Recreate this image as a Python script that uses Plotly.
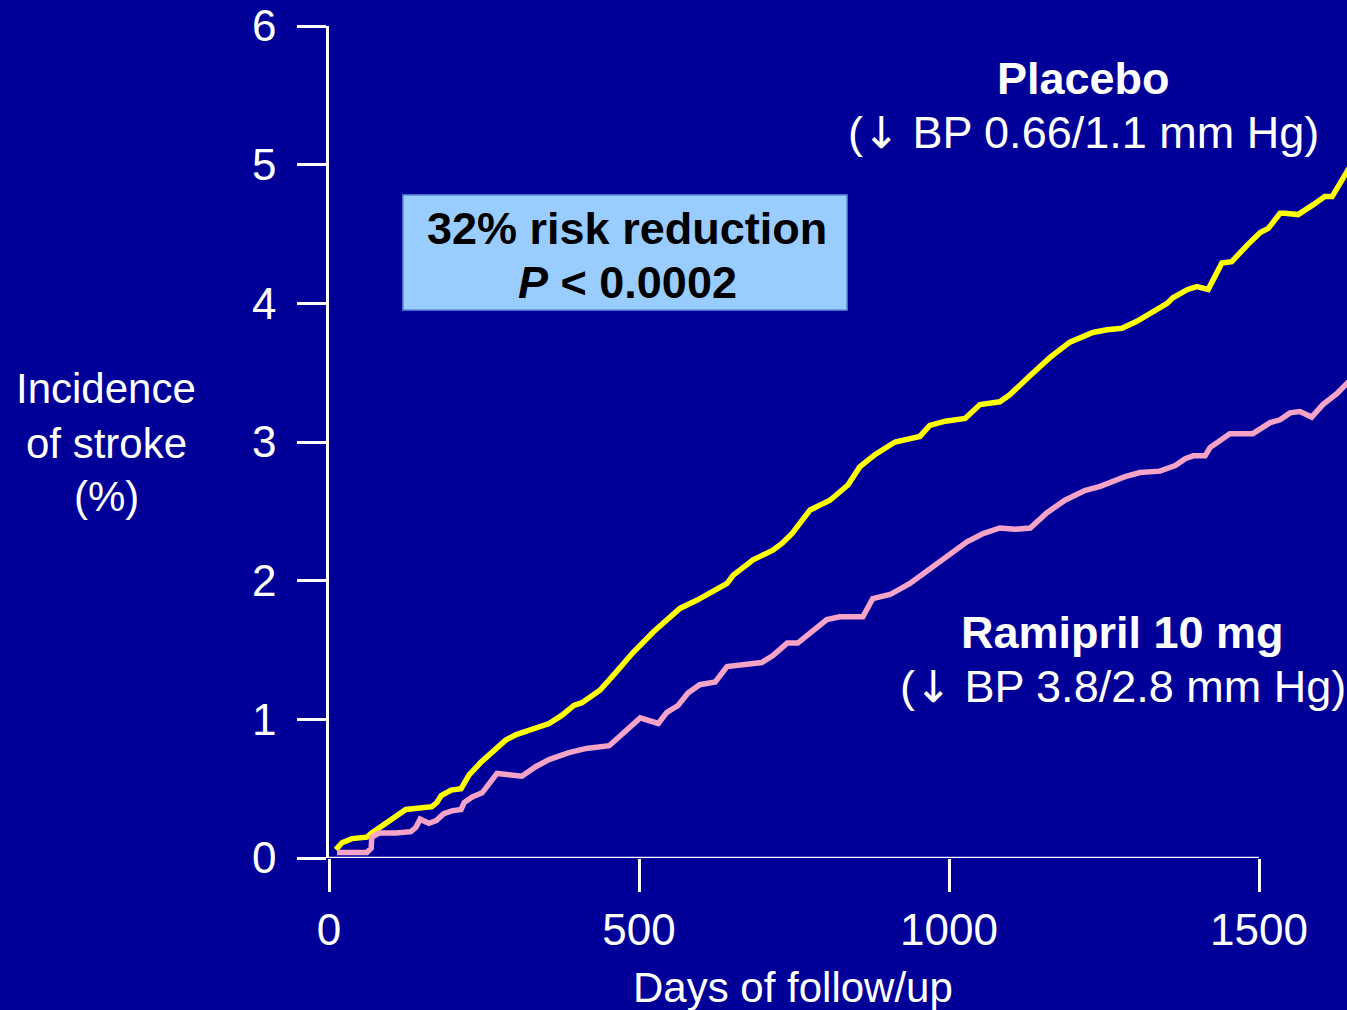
import plotly.graph_objects as go

# ---- data (days, incidence %) ----
placebo_days = [11, 21, 37, 61, 69, 92, 124, 166, 174, 181, 197, 213, 218, 226, 245, 266, 285, 302, 323, 339,
                355, 376, 395, 408, 437, 461, 490, 523, 566, 594, 626, 642, 652, 684, 716, 731, 747, 760, 776, 808,
                837, 856, 881, 913, 953, 969, 994, 1026, 1050, 1082, 1098, 1131, 1163, 1195, 1232, 1255, 1279, 1303,
                1324, 1352, 1361, 1385, 1400, 1418, 1440, 1456, 1481, 1502, 1515, 1534, 1542, 1563, 1587, 1606, 1618,
                1639, 1650]
placebo_vals = [0.06, 0.11, 0.14, 0.15, 0.18, 0.25, 0.35, 0.37, 0.40, 0.45, 0.49, 0.50, 0.54, 0.60, 0.69, 0.78, 0.85,
                0.89, 0.92, 0.94, 0.97, 1.03, 1.10, 1.12, 1.21, 1.33, 1.48, 1.63, 1.80, 1.86, 1.94, 1.98, 2.04, 2.15,
                2.22, 2.27, 2.34, 2.42, 2.51, 2.58, 2.69, 2.82, 2.91, 3.00, 3.04, 3.12, 3.15, 3.17, 3.27, 3.29, 3.34,
                3.48, 3.61, 3.72, 3.79, 3.81, 3.82, 3.87, 3.93, 4.00, 4.04, 4.10, 4.12, 4.10, 4.29, 4.30, 4.42, 4.51,
                4.54, 4.65, 4.65, 4.64, 4.71, 4.77, 4.77, 4.94, 5.01]

ramipril_days = [13, 32, 61, 68, 69, 81, 108, 132, 140, 147, 161, 173, 185, 198, 213, 218, 231, 247, 261, 271, 290,
                 311, 334, 355, 387, 415, 452, 468, 484, 502, 531, 545, 563, 579, 598, 623, 642, 663, 698, 716, 739,
                 756, 776, 803, 824, 861, 877, 905, 937, 961, 990, 1029, 1055, 1082, 1106, 1131, 1158, 1187, 1219,
                 1244, 1284, 1308, 1340, 1365, 1381, 1394, 1413, 1421, 1453, 1490, 1518, 1534, 1550, 1566, 1585, 1603,
                 1626, 1642, 1650]
ramipril_vals = [0.04, 0.04, 0.04, 0.07, 0.15, 0.18, 0.18, 0.19, 0.22, 0.28, 0.25, 0.27, 0.32, 0.34, 0.35, 0.40, 0.44,
                 0.47, 0.55, 0.61, 0.60, 0.59, 0.66, 0.71, 0.76, 0.79, 0.81, 0.87, 0.94, 1.01, 0.97, 1.05, 1.10, 1.19,
                 1.25, 1.27, 1.38, 1.39, 1.41, 1.46, 1.55, 1.55, 1.62, 1.72, 1.74, 1.74, 1.87, 1.90, 1.98, 2.06, 2.15,
                 2.28, 2.34, 2.38, 2.37, 2.38, 2.49, 2.58, 2.65, 2.68, 2.75, 2.78, 2.79, 2.83, 2.88, 2.90, 2.90, 2.96,
                 3.06, 3.06, 3.14, 3.16, 3.21, 3.22, 3.18, 3.27, 3.35, 3.43, 3.46]

x_ticks = [0, 500, 1000, 1500]
y_ticks = [0, 1, 2, 3, 4, 5, 6]

BG = "#000099"
FONT = "Liberation Sans, Arial, sans-serif"

W, H = 1347, 1010
ML, MR, MT, MB = 329, 0, 26, 152
PW, PH = W - ML - MR, H - MT - MB


def px(xp):
    return (xp - ML) / PW


def py(yp):
    return (H - MB - yp) / PH


fig = go.Figure()
fig.add_trace(go.Scatter(x=placebo_days, y=placebo_vals, mode="lines",
                         line=dict(color="#FFFF00", width=5.5), name="Placebo", cliponaxis=True))
fig.add_trace(go.Scatter(x=ramipril_days, y=ramipril_vals, mode="lines",
                         line=dict(color="#F5A3C6", width=5.5), name="Ramipril 10 mg", cliponaxis=True))

# x axis line only from 0 to 1500
fig.add_shape(type="line", xref="x", yref="y", x0=0, x1=x_ticks[-1], y0=0, y1=0,
              line=dict(color="white", width=2.5), layer="above")

# box
fig.add_shape(type="rect", xref="paper", yref="paper", x0=px(403), x1=px(847), y0=py(310), y1=py(195),
              fillcolor="#99CCFF", line=dict(color="#5B8FD6", width=1.5), layer="above")

ann = []


def add(text, xp, yp, size=45, color="white", bold=False):
    if bold:
        text = "<b>" + text + "</b>"
    ann.append(dict(text=text, x=px(xp), y=py(yp), xref="paper", yref="paper", showarrow=False,
                    xanchor="center", yanchor="middle", font=dict(family=FONT, size=size, color=color)))


ARROW = '<span style="font-family:DejaVu Sans;font-size:44px">↓</span>'

add("Placebo", 1083, 78, bold=True)
add("(" + ARROW + " BP 0.66/1.1 mm Hg)", 1083, 132)
add("Ramipril 10 mg", 1122, 632, bold=True)
add("(" + ARROW + " BP 3.8/2.8 mm Hg)", 1123, 686)
add("32% risk reduction", 627, 228, color="black", bold=True)
add("<i>P</i> < 0.0002", 627, 283, color="black", bold=True)
add("Incidence", 106, 389, size=42)
add("of stroke", 106, 443, size=42)
add("(%)", 106, 497, size=42)
add("Days of follow/up", 793, 987, size=42)

fig.update_layout(
    width=W, height=H,
    margin=dict(l=ML, r=MR, t=MT, b=MB, pad=0),
    paper_bgcolor=BG, plot_bgcolor=BG,
    showlegend=False,
    annotations=ann,
    xaxis=dict(range=[0, (W - ML) / 0.62], tickvals=x_ticks, ticktext=[str(v) for v in x_ticks],
               ticks="outside", ticklen=33, tickwidth=2.5, tickcolor="white",
               showgrid=False, zeroline=False, showline=False,
               tickfont=dict(family=FONT, size=44, color="white"), ticklabelstandoff=0),
    yaxis=dict(range=[0, 6], tickvals=y_ticks, ticktext=[str(v) for v in y_ticks],
               ticks="outside", ticklen=29, tickwidth=2.5, tickcolor="white",
               showgrid=False, zeroline=False, showline=True, linecolor="white", linewidth=2.5,
               tickfont=dict(family=FONT, size=44, color="white"), ticklabelstandoff=12),
)

fig.write_html("out.html")
